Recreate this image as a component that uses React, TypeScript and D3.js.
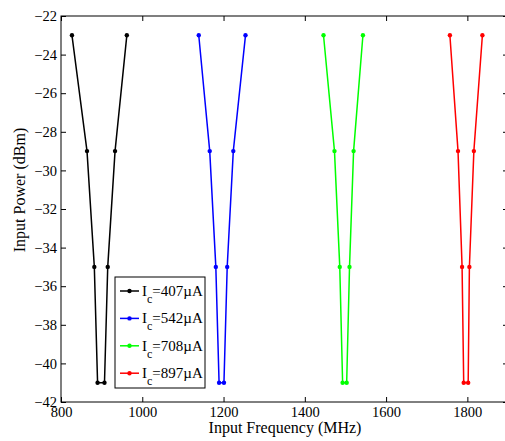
import { useEffect, useRef } from "react";
import * as d3 from "d3";

// power levels (dBm), walked down one side of each V and back up the other
const powers = [-23, -29, -35, -41, -41, -35, -29, -23];

const freq407 = [827, 864, 882, 890, 907, 915, 933, 962];
const freq542 = [1139, 1166, 1181, 1189, 1201, 1209, 1224, 1254];
const freq708 = [1446, 1473, 1486, 1493, 1503, 1510, 1520, 1543];
const freq897 = [1757, 1777, 1787, 1791, 1802, 1805, 1816, 1837];

const seriesLabels = ["=407µA", "=542µA", "=708µA", "=897µA"];
const seriesColors = ["#000000", "#0000ff", "#00ff00", "#ff0000"];

const xTicks = [800, 1000, 1200, 1400, 1600, 1800];
const yTicks = [-42, -40, -38, -36, -34, -32, -30, -28, -26, -24, -22];

const W = 505;
const H = 441;
const margin = { left: 61, top: 16, right: 508, bottom: 402 };

const App = () => {
  const svgRef = useRef(null);

  useEffect(() => {
    const svg = d3.select(svgRef.current);
    svg.selectAll("*").remove();

    const font = "Liberation Serif";
    const x = d3.scaleLinear().domain([800, 1900]).range([margin.left, margin.right]);
    const y = d3.scaleLinear().domain([-42, -22]).range([margin.bottom, margin.top]);

    svg.append("rect").attr("width", W).attr("height", H).attr("fill", "#fff");

    // frame
    svg
      .append("rect")
      .attr("x", margin.left)
      .attr("y", margin.top)
      .attr("width", margin.right - margin.left)
      .attr("height", margin.bottom - margin.top)
      .attr("fill", "none")
      .attr("stroke", "#000")
      .attr("stroke-width", 1);

    const tickLen = 5;
    const fmt = (d) => (d < 0 ? "\u2212" + Math.abs(d) : String(d));
    const bottomAxis = d3.axisBottom(x).tickValues(xTicks).tickSizeInner(-tickLen).tickSizeOuter(0).tickPadding(5).tickFormat(fmt);
    const topAxis = d3.axisTop(x).tickValues(xTicks).tickSizeInner(-tickLen).tickSizeOuter(0).tickFormat(() => "");
    const leftAxis = d3.axisLeft(y).tickValues(yTicks).tickSizeInner(-tickLen).tickSizeOuter(0).tickPadding(4).tickFormat(fmt);
    const rightAxis = d3.axisRight(y).tickValues(yTicks).tickSizeInner(-tickLen).tickSizeOuter(0).tickFormat(() => "");

    const styleAxis = (g) => {
      g.attr("font-family", font).attr("font-size", 14.5);
      g.select(".domain").remove();
      g.selectAll("text").attr("fill", "#000");
    };

    svg.append("g").attr("transform", `translate(0,${margin.bottom})`).call(bottomAxis).call(styleAxis);
    svg.append("g").attr("transform", `translate(0,${margin.top})`).call(topAxis).call(styleAxis);
    svg.append("g").attr("transform", `translate(${margin.left},0)`).call(leftAxis).call(styleAxis);
    svg.append("g").attr("transform", `translate(${margin.right},0)`).call(rightAxis).call(styleAxis);

    const allFreqs = [freq407, freq542, freq708, freq897];
    const line = d3
      .line()
      .x((d) => x(d[0]))
      .y((d) => y(d[1]));

    allFreqs.forEach((fs, i) => {
      const pts = fs.map((f, j) => [f, powers[j]]);
      svg
        .append("path")
        .datum(pts)
        .attr("d", line)
        .attr("fill", "none")
        .attr("stroke", seriesColors[i])
        .attr("stroke-width", 1.5);
      svg
        .selectAll(null)
        .data(pts)
        .enter()
        .append("circle")
        .attr("cx", (d) => x(d[0]))
        .attr("cy", (d) => y(d[1]))
        .attr("r", 2.2)
        .attr("fill", seriesColors[i]);
    });

    // axis titles
    svg
      .append("text")
      .attr("x", 285)
      .attr("y", 433)
      .attr("text-anchor", "middle")
      .attr("font-family", font)
      .attr("font-size", 16)
      .text("Input Frequency (MHz)");
    svg
      .append("text")
      .attr("transform", `translate(25,190) rotate(-90)`)
      .attr("text-anchor", "middle")
      .attr("font-family", font)
      .attr("font-size", 16)
      .text("Input Power (dBm)");

    // legend
    const lg = svg.append("g").attr("transform", "translate(115,277)");
    lg.append("rect")
      .attr("width", 90)
      .attr("height", 111)
      .attr("fill", "#fff")
      .attr("stroke", "#000")
      .attr("stroke-width", 1);
    seriesLabels.forEach((lab, i) => {
      const yy = 14 + i * 27.4;
      lg.append("line")
        .attr("x1", 5)
        .attr("x2", 24)
        .attr("y1", yy)
        .attr("y2", yy)
        .attr("stroke", seriesColors[i])
        .attr("stroke-width", 1.5);
      lg.append("circle").attr("cx", 14.5).attr("cy", yy).attr("r", 2.2).attr("fill", seriesColors[i]);
      const t = lg
        .append("text")
        .attr("x", 27)
        .attr("y", yy + 5)
        .attr("font-family", font)
        .attr("font-size", 15);
      t.append("tspan").text("I");
      t.append("tspan").attr("dy", 7).attr("font-size", 12).text("c");
      t.append("tspan").attr("dy", -7).text(lab);
    });
  }, []);

  return (
    <svg
      ref={svgRef}
      width={W}
      height={H}
      style={{ position: "absolute", left: 0, top: 0, display: "block" }}
    ></svg>
  );
};

export default App;
